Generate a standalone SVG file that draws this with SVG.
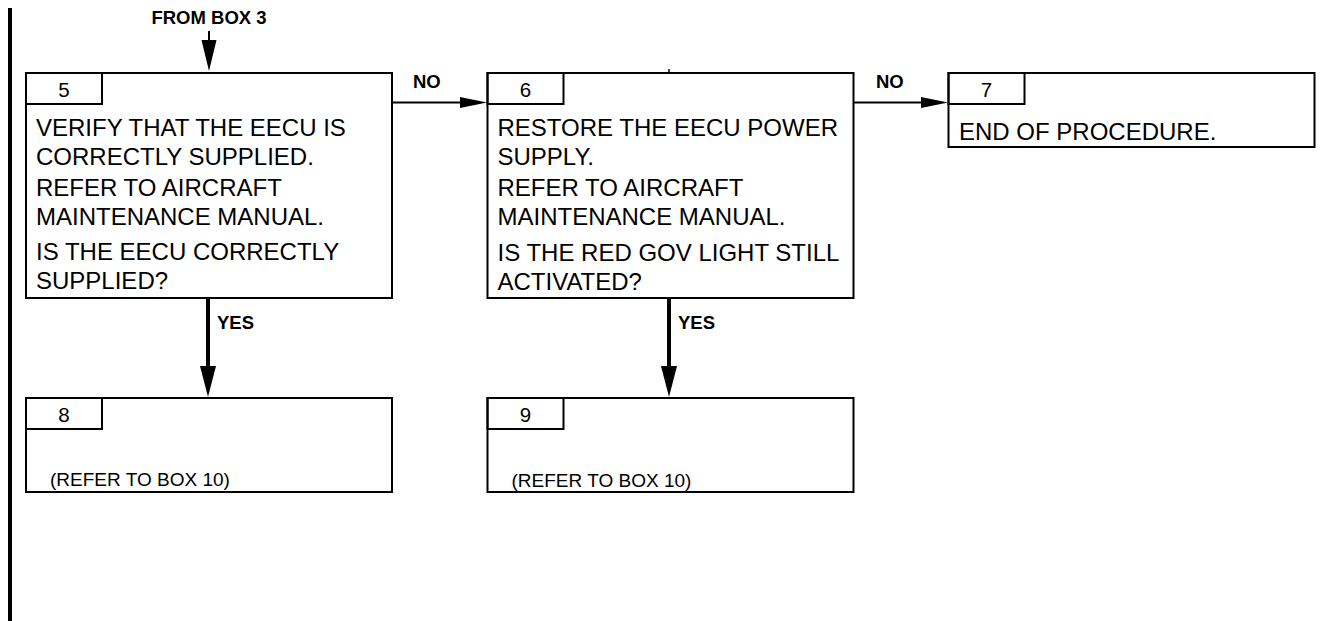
<svg xmlns="http://www.w3.org/2000/svg" width="1324" height="621" viewBox="0 0 1324 621">
<style>
.box{fill:#fff;stroke:#000;stroke-width:2}
.tab{fill:none;stroke:#000;stroke-width:2}
.t{font-family:"Liberation Sans",Arial,sans-serif;font-size:24px;fill:#000}
.num{font-family:"Liberation Sans",Arial,sans-serif;font-size:20.5px;fill:#000;text-anchor:middle}
.ref{font-family:"Liberation Sans",Arial,sans-serif;font-size:19px;fill:#000}
.lbl{font-family:"Liberation Sans",Arial,sans-serif;font-size:18.5px;font-weight:bold;fill:#000}
.thin{stroke:#000;stroke-width:2;fill:none}
.thick{stroke:#000;stroke-width:4;fill:none}
.head{fill:#000}
</style>
<rect x="8" y="8" width="4" height="613" fill="#000"/>
<g id="connectors">
<text class="lbl" x="209" y="24" text-anchor="middle">FROM BOX 3</text>
<line class="thin" x1="209" y1="31" x2="209" y2="42" stroke-width="1.5"/>
<polygon class="head" points="201.5,40 216.5,40 209,71"/>
<line class="thick" x1="208" y1="298" x2="208" y2="370"/>
<polygon class="head" points="200,366 216,366 208,397"/>
<text class="lbl" x="217" y="329">YES</text>
<line class="thick" x1="669" y1="298" x2="669" y2="370"/>
<polygon class="head" points="661,366 677,366 669,397"/>
<text class="lbl" x="678" y="329">YES</text>
<line class="thin" x1="392" y1="102.5" x2="462" y2="102.5"/>
<polygon class="head" points="460,97 460,108 487,102.5"/>
<text class="lbl" x="413" y="88">NO</text>
<line class="thin" x1="853.5" y1="102.5" x2="922" y2="102.5"/>
<polygon class="head" points="921,97 921,108 948,102.5"/>
<text class="lbl" x="876" y="88">NO</text>
<line x1="669" y1="69" x2="669" y2="73" stroke="#000" stroke-width="1.5"/>
</g>
<g id="box5">
<rect class="box" x="26" y="73" width="366" height="225"/>
<rect class="tab" x="26" y="73" width="76" height="31"/>
<text class="num" x="64" y="97">5</text>
<text class="t" x="36" y="136">VERIFY THAT THE EECU IS</text>
<text class="t" x="36" y="165">CORRECTLY SUPPLIED.</text>
<text class="t" x="36" y="196">REFER TO AIRCRAFT</text>
<text class="t" x="36" y="225">MAINTENANCE MANUAL.</text>
<text class="t" x="36" y="260">IS THE EECU CORRECTLY</text>
<text class="t" x="36" y="289">SUPPLIED?</text>
</g>
<g id="box6">
<rect class="box" x="487.5" y="73" width="366" height="225"/>
<rect class="tab" x="487.5" y="73" width="76" height="31"/>
<text class="num" x="525.5" y="97">6</text>
<text class="t" x="497.5" y="136">RESTORE THE EECU POWER</text>
<text class="t" x="497.5" y="165">SUPPLY.</text>
<text class="t" x="497.5" y="196">REFER TO AIRCRAFT</text>
<text class="t" x="497.5" y="225">MAINTENANCE MANUAL.</text>
<text class="t" x="497.5" y="261">IS THE RED GOV LIGHT STILL</text>
<text class="t" x="497.5" y="290">ACTIVATED?</text>
</g>
<g id="box7">
<rect class="box" x="948.5" y="73" width="366" height="74"/>
<rect class="tab" x="948.5" y="73" width="76" height="31"/>
<text class="num" x="986.5" y="97">7</text>
<text class="t" x="959" y="140">END OF PROCEDURE.</text>
</g>
<g id="box8">
<rect class="box" x="26" y="398" width="366" height="94"/>
<rect class="tab" x="26" y="398" width="76" height="31"/>
<text class="num" x="64" y="422">8</text>
<text class="ref" x="50" y="486">(REFER TO BOX 10)</text>
</g>
<g id="box9">
<rect class="box" x="487.5" y="398" width="366" height="94"/>
<rect class="tab" x="487.5" y="398" width="76" height="31"/>
<text class="num" x="525.5" y="422">9</text>
<text class="ref" x="511.5" y="487">(REFER TO BOX 10)</text>
</g>
</svg>
